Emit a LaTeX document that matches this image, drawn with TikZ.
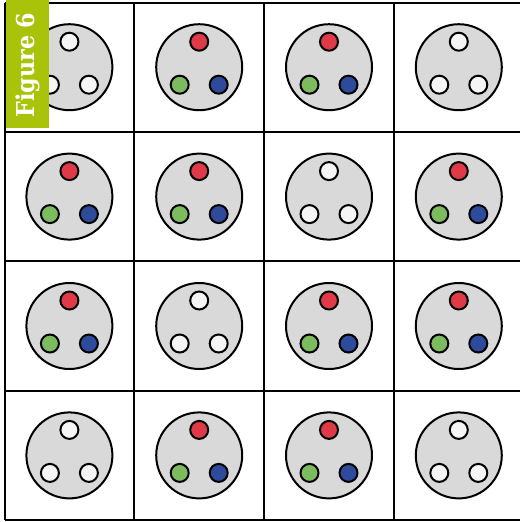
\documentclass[tikz,border=0pt]{standalone}
\usepackage{fontspec}
\setmainfont{DejaVu Serif}
\newfontfamily\labelfont{DejaVu Serif Condensed}
\usetikzlibrary{positioning}
\definecolor{plate}{HTML}{D9D9D9}
\definecolor{holered}{HTML}{E03A48}
\definecolor{holegreen}{HTML}{7DBB5F}
\definecolor{holeblue}{HTML}{2E4A9A}
\definecolor{holewhite}{HTML}{F5F5F5}
\definecolor{figgreen}{HTML}{A8C30A}
\tikzset{
  socket/.style={circle, draw, line width=1.5pt, fill=plate, inner sep=0pt, minimum size=64.5pt},
  hole/.style={circle, draw, line width=1.5pt, inner sep=0pt, minimum size=13.5pt},
  gridline/.style={line width=1.5pt}
}

\begin{document}
\begin{tikzpicture}[x=0.75pt, y=-0.75pt]
  \useasboundingbox (0,0) rectangle (520,522);
  \clip (0,0) rectangle (520,522);
  \fill[white] (0,0) rectangle (520,522);
  % grid
  \foreach \k in {0,...,4}
    { \draw[gridline] (4.5+129.8*\k,2.5) -- (4.5+129.8*\k,520);
      \draw[gridline] (4.5,2.5+129.4*\k) -- (524,2.5+129.4*\k); }
  % sockets: 1 = coloured, 0 = blank
  \foreach \r/\row in {1/{0,1,1,0}, 2/{1,1,0,1}, 3/{1,0,1,1}, 4/{0,1,1,0}}
    { \foreach \t [count=\c] in \row
        { \ifnum\t=1 \def\ca{holered}\def\cb{holegreen}\def\cc{holeblue}
          \else \def\ca{holewhite}\def\cb{holewhite}\def\cc{holewhite}\fi
          \node[socket] (s-\r-\c) at (4.5+129.8*\c-64.9, 2.5+129.4*\r-64.7) {};
          \node[hole, fill=\ca] (s-\r-\c-a) at ([shift={(0,-25.5)}]s-\r-\c.center) {};
          \node[hole, fill=\cb] (s-\r-\c-b) at ([shift={(-19.5,17.5)}]s-\r-\c.center) {};
          \node[hole, fill=\cc] (s-\r-\c-c) at ([shift={(19.5,17.5)}]s-\r-\c.center) {}; } }
  % label
  \fill[figgreen] (5.5,0) rectangle (49,128);
  \node[rotate=90, text=white, font=\labelfont\bfseries\fontsize{18.5}{18.5}\selectfont] (fig) at (27.5,65) {Figure 6};
\end{tikzpicture}
\end{document}
